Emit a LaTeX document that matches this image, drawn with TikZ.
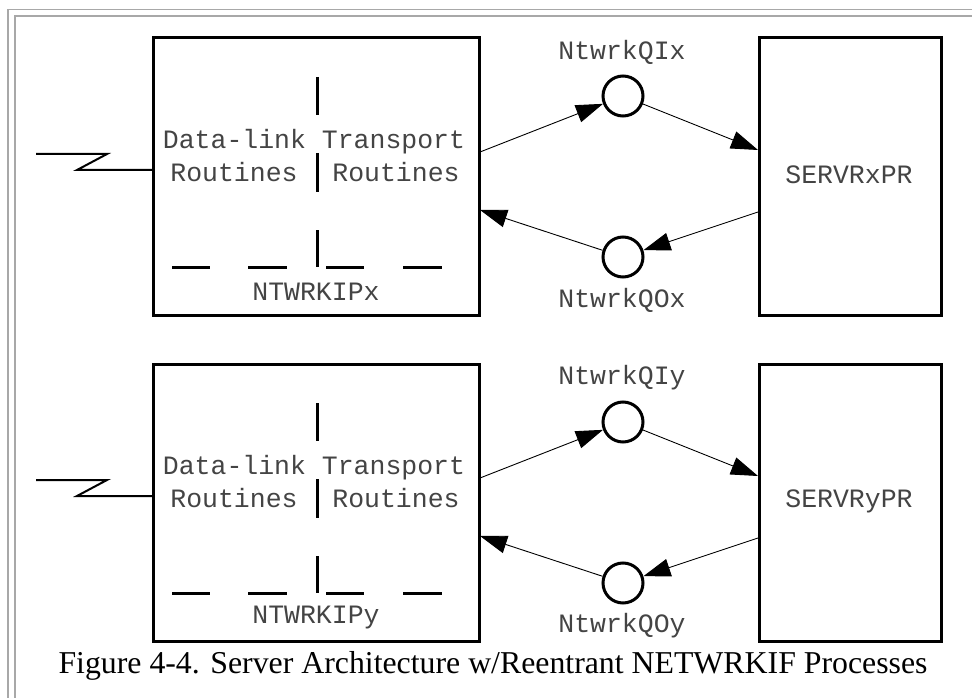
\documentclass[tikz,border=0pt]{standalone}
\usepackage{fontspec}
\setmainfont{Liberation Serif}
\newfontfamily\codefont{Liberation Mono}
\usetikzlibrary{arrows.meta}
\definecolor{textgray}{HTML}{444444}
\definecolor{framegray}{HTML}{A8A8A8}
\tikzset{
  procbox/.style={draw=black, line width=3pt},
  splitline/.style={line width=3pt, black},
  queue/.style={circle, draw=black, line width=3pt, minimum size=40pt, inner sep=0pt},
  flow/.style={line width=0.9pt, -{Triangle[length=27pt, width=18pt]}},
  commlink/.style={line width=2pt},
  monolabel/.style={font=\codefont\fontsize{26.5}{30}\selectfont, text=textgray, inner sep=0pt},
}
\begin{document}
\begin{tikzpicture}[x=1pt, y=-1pt]
\useasboundingbox (0,0) rectangle (972,698);
\fill[white] (0,0) rectangle (972,698);

% page frame (double rule, open to the right and bottom)
\draw[framegray, line width=1.2pt] (8,698) -- (8,9.5) -- (972,9.5);
\draw[framegray, line width=1.2pt] (15,698) -- (15,16) -- (972,16);

% one interface process with its server, shifted vertically
\foreach \dy/\s in {0/x, 326/y} {
  \begin{scope}[yshift=-\dy pt]
    % network process box
    \draw[procbox] (153,38) rectangle (479,315);
    \node[coordinate] (ip\s w) at (153,170) {};
    % dashed separators
    \foreach \ya/\yb in {77/115, 153/192, 230/267}
      \draw[splitline] (317,\ya) -- (317,\yb);
    \foreach \xa/\xb in {172/210, 248/287, 326/364, 403/442}
      \draw[splitline] (\xa,267) -- (\xb,267);
    \node[monolabel] at (314,142) {Data-link Transport};
    \node[monolabel] at (234,172) {Routines};
    \node[monolabel] at (396,172) {Routines};
    \node[monolabel] at (316,292) {NTWRKIP\s};

    % communication line entering the box
    \coordinate (line\s a) at (36,154);
    \coordinate (line\s b) at (107,154);
    \coordinate (line\s c) at (77,170);
    \draw[commlink] (line\s a) -- (line\s b) -- (line\s c) -- (ip\s w);

    % server process box
    \draw[procbox] (759,38) rectangle (941,315);
    \node[monolabel] at (849,175) {SERVR\s PR};

    % queues
    \node[queue] (qi\s) at (623,96) {};
    \node[queue] (qo\s) at (623,257) {};
    \node[monolabel] at (622,52) {NtwrkQI\s};
    \node[monolabel] at (622,300) {NtwrkQO\s};

    % connection points on the boxes
    \coordinate (ipout\s) at (480,152);
    \coordinate (ipin\s) at (480,210);
    \coordinate (srvin\s) at (758,150);
    \coordinate (srvout\s) at (758,212);

    \draw[flow] (ipout\s) -- (qi\s);
    \draw[flow] (qi\s) -- (srvin\s);
    \draw[flow] (srvout\s) -- (qo\s);
    \draw[flow] (qo\s) -- (ipin\s);
  \end{scope}
}

% caption
\node[font=\fontsize{31.8}{36}\selectfont, inner sep=0pt, anchor=base] (caption) at (493,673)
  {Figure 4-4. Server Architecture w/Reentrant NETWRKIF Processes};
\end{tikzpicture}
\end{document}
